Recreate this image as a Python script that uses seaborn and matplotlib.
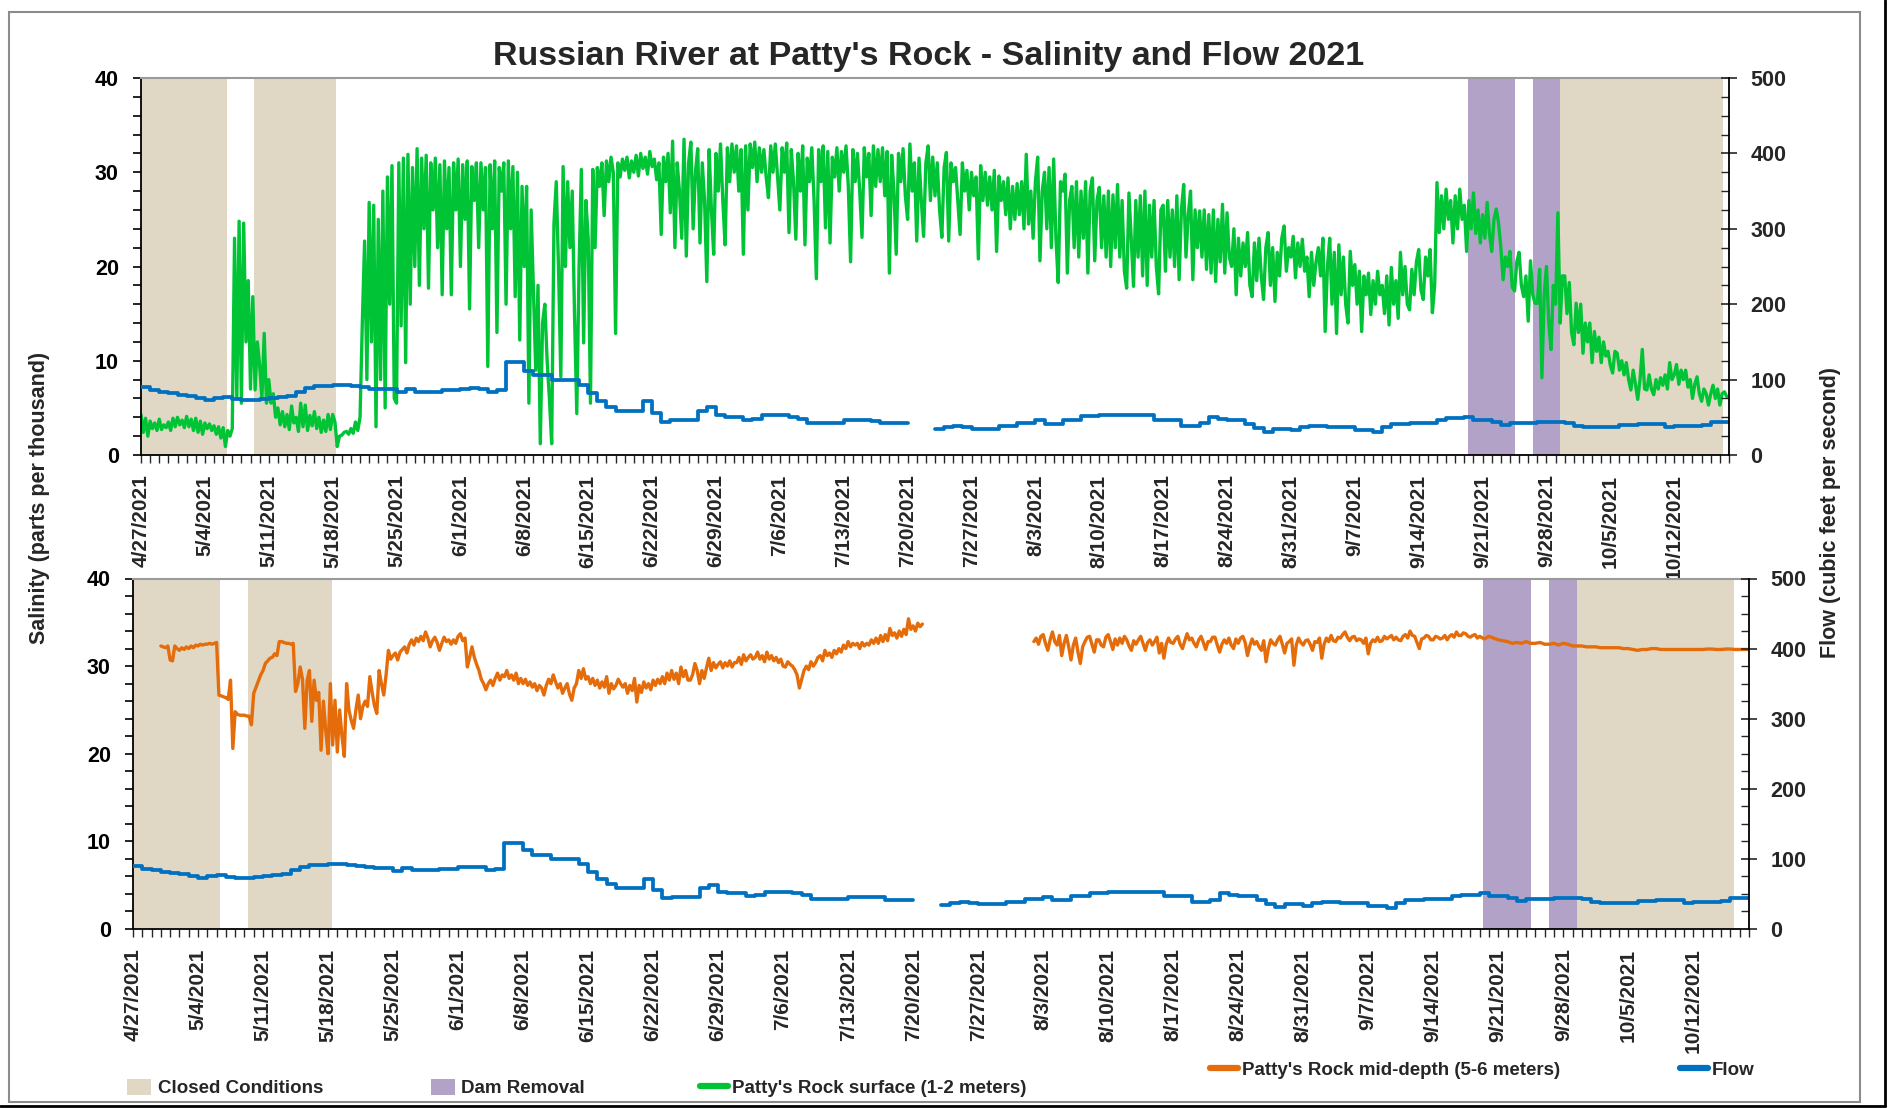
import numpy as np
import pandas as pd
import matplotlib.pyplot as plt
import matplotlib.dates as mdates
from matplotlib.patches import Patch, Rectangle
from matplotlib.lines import Line2D
import seaborn as sns

sns.set_style('ticks')
plt.rcParams['font.family'] = ['Liberation Sans', 'DejaVu Sans']
plt.rcParams['font.weight'] = 'bold'

# surface salinity, 6-hourly from 4/27/2021 (one row per day)
surface_start = '2021-04-27 00:00'
surface_sal = [
    4.3, 2.4, 3.9, 2.0, 3.6, 2.8, 3.4, 2.6, 3.8, 2.7, 3.2, 2.9, 3.5, 2.6, 3.9, 3.0,
    4.0, 3.2, 3.7, 2.9, 4.1, 3.0, 3.8, 2.6, 3.9, 2.4, 3.6, 2.2, 3.4, 2.8, 3.3, 2.6,
    3.1, 2.2, 3.0, 1.8, 2.9, 0.9, 2.6, 2.0, 2.8, 23.0, 6.0, 24.8, 5.5, 24.6, 12.0, 18.5,
    7.0, 16.8, 6.9, 12.0, 9.5, 6.0, 12.9, 5.5, 8.0, 5.5, 6.5, 4.0, 5.0, 3.2, 4.6, 3.0,
    4.3, 2.7, 5.2, 3.4, 4.0, 2.5, 5.5, 3.0, 5.3, 2.6, 4.2, 3.1, 4.6, 2.8, 4.0, 2.4,
    3.7, 2.5, 4.3, 2.7, 4.3, 3.5, 0.9, 2.0, 2.1, 2.4, 2.5, 2.2, 2.8, 2.3, 3.5, 2.6,
    4.0, 14.0, 22.7, 8.0, 26.8, 12.0, 26.5, 3.0, 25.0, 8.0, 28.0, 5.0, 29.5, 16.0, 30.7, 6.0,
    5.5, 31.0, 13.7, 31.5, 9.8, 31.9, 16.0, 30.5, 20.0, 32.5, 18.0, 31.5, 24.0, 31.8, 17.7, 31.0,
    26.0, 31.5, 22.0, 30.8, 17.0, 31.2, 24.0, 30.5, 17.0, 31.0, 26.0, 31.4, 20.0, 30.8, 25.0, 31.2,
    15.5, 30.6, 27.0, 31.0, 22.0, 31.0, 26.0, 30.5, 9.4, 30.8, 24.0, 31.2, 13.0, 30.5, 28.0, 31.0,
    16.0, 31.2, 24.0, 30.6, 16.8, 30.0, 12.2, 28.5, 20.0, 28.5, 5.5, 26.0, 17.5, 9.0, 18.0, 1.2,
    14.0, 16.0, 10.0, 6.0, 1.2, 24.6, 29.0, 19.7, 8.3, 30.6, 20.0, 29.0, 22.0, 28.0, 15.0, 4.4,
    20.0, 30.3, 11.9, 27.0, 23.0, 5.5, 30.3, 22.0, 30.5, 28.5, 31.0, 25.4, 31.2, 29.0, 31.6, 30.0,
    12.9, 31.0, 29.5, 31.4, 30.2, 31.6, 29.4, 31.2, 30.0, 31.8, 29.6, 32.0, 30.4, 31.6, 29.8, 32.2,
    30.6, 31.4, 29.2, 31.0, 23.4, 31.6, 29.0, 32.0, 25.7, 33.3, 22.0, 31.0, 28.0, 23.0, 33.5, 21.1,
    31.0, 33.2, 24.0, 30.0, 32.5, 22.5, 31.0, 27.0, 18.4, 32.4, 26.0, 21.3, 32.0, 28.0, 33.0, 27.0,
    22.3, 32.6, 29.0, 33.0, 30.0, 32.8, 28.0, 32.4, 21.3, 32.8, 26.0, 33.0, 30.5, 33.2, 29.0, 32.6,
    30.0, 32.4, 29.5, 27.3, 32.8, 30.0, 33.0, 29.5, 26.0, 32.6, 30.0, 33.1, 23.6, 32.4, 29.0, 22.9,
    32.0, 28.0, 32.8, 22.3, 31.5, 29.0, 32.6, 27.0, 18.7, 32.4, 29.0, 32.8, 24.1, 32.2, 22.5, 31.6,
    29.5, 32.6, 28.0, 32.2, 30.0, 32.8, 28.5, 20.5, 32.4, 29.0, 32.0, 28.0, 23.1, 32.6, 29.5, 32.0,
    25.4, 32.8, 28.5, 32.4, 29.0, 32.6, 27.5, 32.2, 19.3, 31.8, 28.0, 21.3, 32.0, 29.0, 32.5, 27.5,
    25.0, 33.0, 28.0, 31.0, 22.7, 31.5, 27.0, 23.2, 31.0, 32.8, 27.0, 31.6, 27.5, 31.0, 26.0, 23.1,
    30.5, 32.1, 22.7, 31.0, 29.0, 30.5, 27.0, 23.4, 31.0, 28.0, 30.2, 26.0, 30.0, 27.5, 29.5, 20.8,
    30.7, 27.0, 30.0, 26.5, 29.5, 26.0, 30.2, 21.6, 29.6, 27.0, 29.0, 25.5, 29.4, 24.0, 28.5, 25.0,
    28.8, 25.5, 29.0, 24.0, 31.9, 24.5, 28.0, 23.0, 29.0, 31.6, 20.6, 28.0, 30.0, 24.0, 30.5, 22.0,
    31.4, 23.0, 18.3, 29.0, 28.0, 29.8, 19.3, 27.0, 28.5, 22.0, 29.0, 21.0, 28.0, 23.0, 29.0, 19.3,
    28.0, 29.4, 20.6, 27.0, 28.4, 22.0, 27.5, 21.0, 28.0, 20.0, 27.6, 22.0, 28.7, 21.0, 27.0, 19.5,
    17.7, 27.8, 23.0, 17.9, 27.0, 21.0, 27.5, 19.0, 28.0, 18.0, 26.5, 21.0, 27.0, 20.0, 17.1, 26.0,
    26.5, 19.5, 27.0, 21.0, 26.0, 20.0, 27.5, 18.6, 26.0, 28.7, 21.0, 25.5, 28.0, 18.6, 26.0, 22.0,
    25.9, 21.0, 26.0, 19.7, 25.5, 19.3, 26.0, 18.4, 25.0, 20.5, 26.6, 19.3, 25.7, 21.0, 20.0, 24.0,
    17.0, 23.0, 19.0, 22.5, 20.0, 23.6, 18.0, 16.8, 22.5, 18.5, 23.0, 19.0, 16.5, 22.0, 23.6, 18.0,
    22.0, 16.3, 21.5, 19.0, 23.0, 24.3, 19.5, 22.0, 21.0, 23.2, 18.8, 22.5, 20.0, 22.9, 19.5, 21.0,
    16.8, 21.5, 18.0, 20.5, 22.0, 19.0, 23.0, 13.1, 20.0, 23.0, 16.0, 21.5, 12.9, 22.3, 17.0, 21.0,
    16.0, 14.0, 21.6, 18.0, 20.2, 16.0, 19.5, 13.1, 19.0, 17.0, 19.3, 14.9, 18.5, 16.0, 19.5, 17.0,
    18.0, 15.0, 19.0, 13.8, 19.9, 16.0, 18.5, 14.5, 21.5, 17.0, 20.0, 16.0, 15.4, 19.7, 17.0, 20.5,
    21.8, 17.5, 16.5, 21.0, 19.0, 21.8, 15.1, 18.0, 28.9, 23.6, 27.5, 24.0, 28.2, 25.0, 27.0, 22.5,
    27.5, 24.0, 28.2, 25.0, 26.5, 21.6, 27.0, 24.0, 27.8, 23.5, 26.0, 22.5, 25.5, 23.0, 26.8, 23.5,
    21.6, 25.0, 26.1, 24.6, 22.0, 18.6, 21.0, 20.0, 21.6, 17.8, 17.4, 20.5, 21.5, 18.0, 16.8, 19.0,
    14.2, 20.6, 17.0, 16.1, 16.1, 19.7, 8.2, 17.0, 20.0, 14.0, 11.2, 18.0, 16.0, 25.7, 14.0, 19.0,
    19.0, 15.0, 18.3, 13.0, 11.7, 16.1, 13.0, 16.0, 10.8, 14.0, 12.0, 14.0, 9.8, 13.1, 11.0, 12.5,
    9.8, 12.0, 10.5, 11.0, 9.5, 8.7, 11.0, 10.8, 9.0, 10.0, 8.5, 9.8, 8.0, 6.9, 9.0, 7.5,
    5.9, 8.0, 11.2, 7.0, 6.9, 8.5, 7.0, 6.4, 8.0, 7.0, 8.2, 7.4, 8.5, 7.0, 9.8, 8.0,
    8.5, 9.6, 7.5, 9.0, 8.0, 9.0, 7.2, 8.0, 6.0, 7.5, 8.3, 6.5, 5.7, 7.0, 6.5, 5.3,
    6.5, 7.4, 6.0, 7.0, 5.3, 6.5, 6.7, 6.2,
]

# mid-depth salinity: 6-hourly 4/30 - 7/21, 6-hourly 8/2 - 9/18, 12-hourly from 9/19
mid_start_1 = '2021-04-30 00:00'
mid_sal_1 = [
    32.3, 32.2, 32.1, 32.3, 30.7, 30.6, 32.3, 32.0, 31.8, 32.1, 31.9, 32.2, 32.0, 32.3, 32.1, 32.4,
    32.3, 32.5, 32.4, 32.5, 32.5, 32.6, 32.5, 32.6, 32.7, 26.7, 26.6, 26.5, 26.4, 26.2, 28.4, 20.6,
    24.8, 24.5, 24.4, 24.4, 24.4, 24.3, 24.3, 23.3, 26.9, 27.6, 28.3, 29.0, 29.5, 30.3, 30.6, 30.9,
    31.0, 31.4, 31.2, 32.8, 32.8, 32.7, 32.6, 32.6, 32.5, 32.6, 27.1, 28.0, 29.9, 28.5, 22.9, 28.4,
    29.5, 23.7, 28.4, 26.1, 27.0, 20.4, 26.0, 22.7, 20.0, 28.0, 21.0, 26.1, 20.2, 25.0, 22.0, 19.7,
    28.0, 25.0, 23.8, 22.9, 25.0, 26.7, 24.0, 25.4, 26.0, 25.4, 28.8, 27.0, 25.5, 24.6, 29.5, 28.0,
    26.7, 29.0, 31.8, 30.8, 31.2, 31.5, 30.7, 31.6, 31.9, 32.2, 31.5, 32.5, 33.0, 32.4, 33.2, 32.8,
    33.4, 32.9, 33.9, 33.2, 32.2, 32.9, 33.3, 32.7, 31.8, 32.6, 33.3, 32.8, 33.0, 32.5, 33.0, 32.6,
    33.4, 33.7, 32.9, 33.2, 29.9, 31.0, 32.2, 31.0, 30.2, 29.5, 28.5, 28.0, 27.3, 28.0, 28.4, 27.8,
    28.6, 29.2, 28.4, 29.0, 28.8, 29.5, 28.6, 29.0, 28.4, 29.2, 28.0, 28.6, 28.0, 28.5, 27.8, 28.2,
    27.6, 28.0, 27.2, 27.8, 27.5, 26.7, 27.8, 28.5, 28.0, 29.0, 28.2, 27.5, 28.0, 26.9, 27.5, 28.0,
    26.8, 26.1, 27.5, 28.0, 29.5, 28.6, 29.7, 28.5, 28.8, 28.0, 28.6, 27.8, 28.4, 27.5, 28.2, 27.6,
    28.8, 26.9, 28.0, 27.4, 27.8, 28.5, 28.0, 27.6, 28.0, 26.9, 27.8, 27.2, 28.6, 25.9, 27.8, 27.0,
    28.2, 27.5, 28.0, 27.3, 28.4, 27.8, 28.5, 28.0, 28.8, 28.0, 29.2, 28.4, 29.5, 28.5, 29.2, 28.0,
    29.9, 28.8, 29.5, 28.4, 28.4, 29.0, 30.3, 29.5, 28.0, 29.5, 28.6, 29.8, 30.9, 29.5, 30.4, 29.8,
    30.2, 30.5, 29.8, 30.4, 30.0, 30.6, 29.9, 30.4, 30.4, 31.0, 30.2, 31.3, 30.6, 31.0, 31.3, 30.8,
    31.0, 31.6, 30.8, 31.2, 30.5, 31.6, 30.8, 31.2, 30.6, 31.0, 30.4, 30.8, 30.0, 29.9, 30.5, 30.2,
    30.0, 29.6, 29.0, 27.5, 28.5, 29.5, 30.0, 29.6, 30.5, 30.0, 30.4, 31.0, 31.2, 30.6, 31.8, 31.2,
    31.5, 31.0, 31.8, 31.4, 32.0, 31.6, 32.4, 32.0, 32.8, 32.2, 32.6, 32.4, 32.6, 32.0, 32.7, 32.3,
    32.6, 32.4, 33.0, 32.6, 33.2, 32.6, 33.5, 32.8, 33.6, 32.9, 34.3, 33.5, 33.8, 33.2, 34.0, 33.4,
    34.2, 33.6, 35.4, 34.2, 34.6, 34.0, 34.9, 34.5, 34.8,
]
mid_start_2 = '2021-08-02 00:00'
mid_sal_2 = [
    32.8, 33.2, 32.5, 33.4, 33.6, 32.6, 31.8, 33.0, 33.9, 32.8, 32.4, 33.5, 31.2, 32.6, 33.5, 32.2,
    30.7, 32.4, 33.2, 31.6, 30.3, 32.2, 32.8, 33.3, 33.4, 32.5, 31.6, 33.0, 33.0, 32.4, 32.2, 33.3,
    33.6, 32.8, 31.9, 33.1, 32.4, 33.2, 32.6, 33.4, 33.0, 32.3, 31.8, 32.9, 32.5, 33.0, 33.4, 32.6,
    31.8, 32.7, 33.0, 32.4, 32.8, 33.3, 31.5, 32.6, 30.9, 32.5, 33.2, 32.7, 32.6, 33.1, 33.4, 32.5,
    32.0, 32.9, 33.7, 33.0, 33.2, 32.6, 32.2, 33.0, 33.4, 32.7, 31.9, 32.8, 32.8, 33.3, 33.3, 32.4,
    31.6, 32.5, 33.0, 32.6, 33.2, 32.4, 32.0, 33.1, 32.6, 33.2, 33.4, 32.7, 31.2, 32.3, 33.1, 32.5,
    32.8, 32.2, 31.8, 32.9, 30.5, 32.0, 33.0, 32.6, 32.4, 33.0, 33.4, 32.5, 31.5, 32.6, 32.8, 33.1,
    30.1, 32.4, 33.2, 32.7, 32.4, 32.9, 33.0, 32.5, 31.8, 32.8, 32.7, 33.2, 30.9, 32.5, 33.2, 32.8,
    33.5, 32.9, 32.8, 33.3, 33.2, 33.6, 33.9, 33.3, 32.9, 33.3, 33.4, 32.9, 33.1, 33.0, 32.6, 33.2,
    31.4, 32.6, 33.0, 32.8, 33.3, 32.8, 32.9, 33.4, 33.1, 33.3, 33.5, 33.0, 33.3, 33.0, 32.9, 33.4,
    33.6, 33.2, 34.0, 33.5, 33.4, 32.7, 32.0, 33.1, 33.2, 33.5, 33.4, 33.0, 33.0, 33.4, 33.3, 33.1,
    33.2, 33.5, 33.0, 33.4, 33.6, 33.3, 33.9, 33.5, 33.5, 33.8, 33.7, 33.4, 33.3, 33.5, 33.6, 33.2,
]
mid_start_3 = '2021-09-19 00:00'
mid_sal_3 = [
    33.4, 33.1, 33.4, 33.2, 33.0, 32.9, 32.8, 32.6, 32.7, 32.6, 32.8, 32.6, 32.6, 32.7, 32.5, 32.5,
    32.6, 32.4, 32.6, 32.5, 32.3, 32.3, 32.3, 32.2, 32.2, 32.2, 32.1, 32.1, 32.1, 32.1, 32.1, 32.0,
    32.0, 31.9, 31.8, 31.9, 31.9, 32.0, 32.0, 31.9, 31.9, 31.9, 31.9, 31.9, 31.9, 31.9, 31.9, 31.9,
    31.9, 31.95, 31.95, 31.9, 31.9, 31.95, 31.95, 31.9, 31.9, 31.9, 31.9,
]

# daily flow (cfs) from 4/27/2021, gap on 7/21-7/22
flow_start = '2021-04-27'
flow_cfs = [
    90, 86, 84, 82, 80, 78, 75, 73, 75, 77,
    74, 73, 73, 74, 76, 77, 78, 84, 89, 91,
    92, 93, 93, 91, 90, 88, 87, 87, 83, 87,
    84, 84, 84, 86, 86, 88, 89, 88, 84, 86,
    123, 123, 112, 106, 106, 100, 100, 100, 93, 82,
    71, 64, 58, 58, 58, 71, 56, 44, 46, 46,
    46, 58, 63, 53, 51, 51, 47, 48, 53, 53,
    53, 51, 48, 43, 43, 43, 43, 46, 46, 46,
    45, 42, 42, 42, 42, np.nan, np.nan, 34, 37, 39,
    37, 35, 35, 35, 39, 39, 43, 43, 46, 41,
    41, 47, 47, 52, 52, 53, 53, 53, 53, 53,
    53, 47, 47, 47, 39, 39, 42, 51, 48, 47,
    47, 41, 35.5, 31, 35, 35, 32.5, 37, 38.6, 38,
    37.7, 37.7, 37.7, 33, 33, 30, 37, 41, 41, 43,
    43, 43, 46.5, 49, 49, 51, 47, 47, 44, 40,
    43, 43, 43, 44, 44, 44, 43, 38.6, 37, 37,
    37, 37, 40, 40, 41, 41, 41, 37.5, 38, 38,
    38, 40, 44, 44, 44,
]

closed_top = [('2021-04-27 00:00', '2021-05-06 09:30'), ('2021-05-09 09:30', '2021-05-18 09:30'),
              ('2021-09-29 12:00', '2021-10-17 09:30')]
closed_bottom = [('2021-04-27 00:00', '2021-05-06 09:30'), ('2021-05-09 09:30', '2021-05-18 09:30'),
                 ('2021-09-29 12:00', '2021-10-16 09:30')]
dam_removal = [('2021-09-19 09:30', '2021-09-24 12:00'), ('2021-09-26 12:00', '2021-09-29 12:00')]

tan = '#E0D8C4'
purple = '#B2A2C7'
green = '#00C436'
orange = '#E46C0A'
blue = '#0070C0'

surface = pd.DataFrame({'time': pd.date_range(surface_start, periods=len(surface_sal), freq='6h'),
                        'sal': surface_sal})
mid = pd.concat([
    pd.DataFrame({'time': pd.date_range(mid_start_1, periods=len(mid_sal_1), freq='6h'), 'sal': mid_sal_1, 'seg': 0}),
    pd.DataFrame({'time': pd.date_range(mid_start_2, periods=len(mid_sal_2), freq='6h'), 'sal': mid_sal_2, 'seg': 1}),
    pd.DataFrame({'time': pd.date_range(mid_start_3, periods=len(mid_sal_3), freq='12h'), 'sal': mid_sal_3, 'seg': 1}),
], ignore_index=True)
flow = pd.DataFrame({'time': pd.date_range(flow_start, periods=len(flow_cfs), freq='D'), 'cfs': flow_cfs})
flow['seg'] = flow['cfs'].isna().cumsum()
flow = flow.dropna()

W, H = 1892, 1108
fig = plt.figure(figsize=(W / 100, H / 100), dpi=100)
ax_top = fig.add_axes([141 / W, 1 - 455 / H, 1588 / W, 377 / H])
ax_bot = fig.add_axes([133 / W, 1 - 929 / H, 1616 / W, 350.5 / H])

weeks = pd.date_range('2021-04-27', '2021-10-12', freq='7D')

for ax, closed in ((ax_top, closed_top), (ax_bot, closed_bottom)):
    for a, b in closed:
        ax.axvspan(pd.Timestamp(a), pd.Timestamp(b), color=tan, lw=0, zorder=0)
    for a, b in dam_removal:
        ax.axvspan(pd.Timestamp(a), pd.Timestamp(b), color=purple, lw=0, zorder=0)

sns.lineplot(data=surface, x='time', y='sal', estimator=None, ax=ax_top, color=green, lw=2.4)
sns.lineplot(data=mid, x='time', y='sal', units='seg', estimator=None, ax=ax_bot, color=orange, lw=2.4)

for ax in (ax_top, ax_bot):
    axr = ax.twinx()
    sns.lineplot(data=flow, x='time', y='cfs', units='seg', estimator=None, ax=axr,
                 color=blue, lw=2.7, drawstyle='steps-post')

    ax.set_xlim(pd.Timestamp('2021-04-27'), pd.Timestamp('2021-10-18'))
    ax.set_ylim(0, 40)
    axr.set_ylim(0, 500)
    ax.set_xticks(weeks)
    ax.set_xticklabels([f'{d.month}/{d.day}/{d.year}' for d in weeks], rotation=90)
    ax.xaxis.set_minor_locator(mdates.DayLocator())
    ax.set_yticks(range(0, 41, 10))
    ax.set_yticks(range(0, 41, 2), minor=True)
    axr.set_yticks(range(0, 501, 100))
    axr.set_yticks(range(0, 501, 25), minor=True)
    ax.set_xlabel('')
    ax.set_ylabel('')
    axr.set_ylabel('')

    ax.tick_params(axis='y', which='both', direction='out', length=6, width=1.2,
                   labelsize=15.5, pad=10, colors='black')
    ax.tick_params(axis='x', which='both', direction='out', length=6, width=1.0,
                   labelsize=15, pad=8)
    axr.tick_params(axis='y', which='major', direction='inout', length=11, width=1.2,
                    labelsize=15.5, pad=10)
    axr.tick_params(axis='y', which='minor', direction='in', length=6, width=1.0)

    ax.spines['top'].set_color('#9a9a9a')
    ax.spines['top'].set_linewidth(1.5)
    ax.spines['right'].set_visible(False)
    for s in ('left', 'bottom'):
        ax.spines[s].set_color('black')
        ax.spines[s].set_linewidth(1.3)
    for s in ('left', 'top', 'bottom'):
        axr.spines[s].set_visible(False)
    axr.spines['right'].set_color('black')
    axr.spines['right'].set_linewidth(1.3)

fig.text(0.491, 1 - 57 / H, "Russian River at Patty's Rock - Salinity and Flow 2021",
         ha='center', va='center', fontsize=24.5, fontweight='bold')
fig.text(40 / W, 1 - 498 / H, 'Salinity (parts per thousand)', rotation=90,
         ha='center', va='center', fontsize=15.5, fontweight='bold')
fig.text(1830 / W, 1 - 513 / H, 'Flow (cubic feet per second)', rotation=90,
         ha='center', va='center', fontsize=15.5, fontweight='bold')

# legend entries placed one by one like the original
entries = [
    (Patch(facecolor=tan, edgecolor='none', label='Closed Conditions'), 127, 1088, 1.3, 0.35),
    (Patch(facecolor=purple, edgecolor='none', label='Dam Removal'), 431, 1088, 1.3, 0.3),
    (Line2D([], [], color=green, lw=4.5, label="Patty's Rock surface (1-2 meters)"), 700, 1088, 1.5, 0.2),
    (Line2D([], [], color=orange, lw=4.5, label="Patty's Rock mid-depth (5-6 meters)"), 1210, 1070, 1.5, 0.2),
    (Line2D([], [], color=blue, lw=4.5, label='Flow'), 1680, 1070, 1.5, 0.2),
]
for handle, x, y, hl, pad in entries:
    fig.legend(handles=[handle], loc='center left', bbox_to_anchor=(x / W, 1 - y / H),
               frameon=False, borderpad=0, borderaxespad=0, handlelength=hl, handleheight=1.0,
               handletextpad=pad, prop={'size': 13.5, 'weight': 'bold'})

# chart-area border
fig.patches.append(Rectangle((9 / W, 1 - 1102 / H), 1851 / W, 1090 / H, transform=fig.transFigure,
                             fill=False, edgecolor='#8c8c8c', lw=1.5))
fig.lines.append(Line2D([1885 / W, 1885 / W], [1 - 1106 / H, 1], transform=fig.transFigure,
                        color='black', lw=2.0))
fig.lines.append(Line2D([0, 1885 / W], [1 - 1106 / H, 1 - 1106 / H], transform=fig.transFigure,
                        color='black', lw=2.0))

fig.savefig('out.png', dpi=100)
